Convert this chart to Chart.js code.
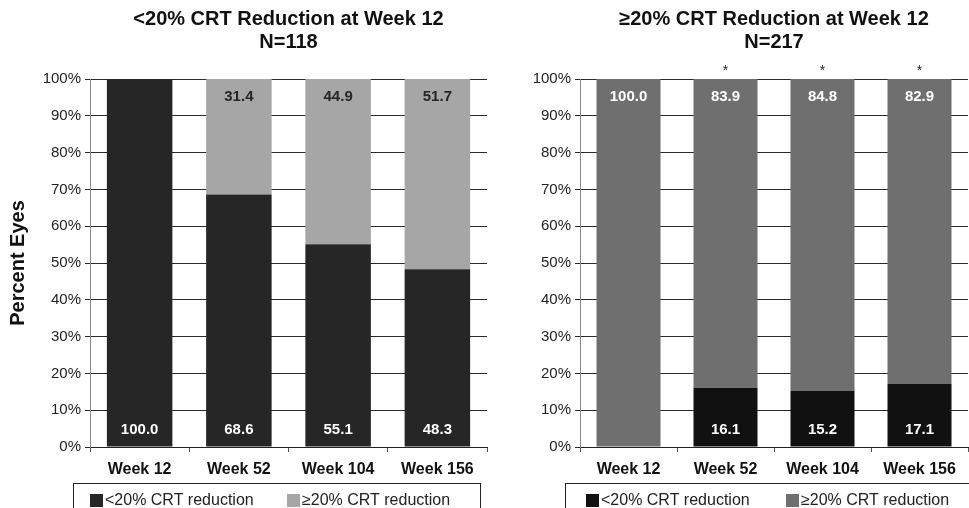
<!DOCTYPE html>
<html>
<head>
<meta charset="utf-8">
<script src="https://cdn.jsdelivr.net/npm/chart.js@4.4.1/dist/chart.umd.min.js"></script>
<style>
    html, body { margin: 0; padding: 0; background: #fff; overflow: hidden; width: 969px; height: 508px; }
    .panel { position: absolute; top: 0; }
    #leftPanel { left: 0; }
    #rightPanel { left: 490px; }
</style>
</head>
<body>
<div class="panel" id="leftPanel"><canvas id="leftChart" width="490" height="508"></canvas></div>
<div class="panel" id="rightPanel"><canvas id="rightChart" width="479" height="508"></canvas></div>
<script>
// data
const weeks = ["Week 12", "Week 52", "Week 104", "Week 156"];
const seriesNames = ["<20% CRT reduction", "\u226520% CRT reduction"];
const leftTitle = ["<20% CRT Reduction at Week 12", "N=118"];
const rightTitle = ["\u226520% CRT Reduction at Week 12", "N=217"];
const leftBelow = [100.0, 68.6, 55.1, 48.3];
const leftAbove = [0, 31.4, 44.9, 51.7];
const rightBelow = [0, 16.1, 15.2, 17.1];
const rightAbove = [100.0, 83.9, 84.8, 82.9];
const rightMarks = ["", "*", "*", "*"];
const yAxisTitle = "Percent Eyes";

const FONT = "'Liberation Sans', Arial, Helvetica, sans-serif";
Chart.defaults.font.family = FONT;
Chart.defaults.color = "#222";

// value labels, asterisks and the boxed legend
const panelExtras = {
    id: "panelExtras",
    afterDatasetsDraw(chart, args, opts) {
        const ctx = chart.ctx;
        ctx.save();
        ctx.font = "bold 15px " + FONT;
        ctx.textAlign = "center";
        ctx.textBaseline = "middle";
        chart.data.datasets.forEach((ds, di) => {
            chart.getDatasetMeta(di).data.forEach((bar, i) => {
                const v = ds.data[i];
                if (!v) return;
                const y = di === 0 ? bar.base - 17 : bar.y + 18;
                ctx.fillStyle = opts.labelColors[di];
                ctx.fillText(v.toFixed(1), bar.x, y);
            });
        });
        if (opts.marks) {
            ctx.font = "14px " + FONT;
            ctx.fillStyle = "#222";
            const meta = chart.getDatasetMeta(0);
            opts.marks.forEach((m, i) => {
                if (m) ctx.fillText(m, meta.data[i].x, chart.chartArea.top - 8);
            });
        }
        ctx.restore();
    },
    afterDraw(chart, args, opts) {
        const ctx = chart.ctx;
        const area = chart.chartArea;
        const lg = opts.legend;
        const top = area.bottom + 36;
        ctx.save();
        ctx.strokeStyle = "#222";
        ctx.lineWidth = 1;
        ctx.strokeRect(area.left + lg.boxLeft + 0.5, top + 0.5, lg.boxWidth, 40);
        ctx.font = "16px " + FONT;
        ctx.textBaseline = "middle";
        ctx.textAlign = "left";
        chart.data.datasets.forEach((ds, di) => {
            const x = area.left + lg.items[di];
            ctx.fillStyle = ds.backgroundColor;
            ctx.fillRect(x, top + 11, 13, 13);
            ctx.fillStyle = "#222";
            ctx.fillText(ds.label, x + 15, top + 18);
        });
        ctx.restore();
    }
};

function buildChart(canvasId, title, below, above, colors, extras) {
    const isLeft = extras.showYTitle;
    return new Chart(document.getElementById(canvasId), {
        type: "bar",
        data: {
            labels: weeks,
            datasets: [
                { label: seriesNames[0], data: below, backgroundColor: colors[0] },
                { label: seriesNames[1], data: above, backgroundColor: colors[1] }
            ]
        },
        options: {
            responsive: false,
            animation: false,
            layout: { padding: { left: 0, right: isLeft ? 3 : 1, top: 0, bottom: 25 } },
            datasets: { bar: { categoryPercentage: 1, barPercentage: 0.66 } },
            scales: {
                x: {
                    stacked: true,
                    afterFit: s => { s.height = 36; },
                    grid: { display: true, drawOnChartArea: false, drawTicks: true, tickLength: 5, color: "#555", offset: true },
                    border: { color: "#222" },
                    ticks: { font: { size: 16, weight: "bold" }, color: "#111", padding: 8 }
                },
                y: {
                    stacked: true,
                    min: 0,
                    max: 100,
                    afterFit: s => { s.width = 90; },
                    ticks: { stepSize: 10, callback: v => v + "%", font: { size: 15 }, color: "#222", padding: 4 },
                    grid: { color: "#2a2a2a", tickLength: 5 },
                    border: { color: "#888" },
                    title: {
                        display: isLeft,
                        text: yAxisTitle,
                        font: { size: 20, weight: "bold" },
                        color: "#111",
                        padding: { top: 6, bottom: 0 }
                    }
                }
            },
            plugins: {
                legend: { display: false },
                tooltip: { enabled: false },
                title: {
                    display: true,
                    text: title,
                    fullSize: false,
                    font: { size: 20, weight: "bold", lineHeight: 1.15 },
                    color: "#111",
                    padding: { top: 7.5, bottom: 25.5 }
                },
                panelExtras: extras
            }
        },
        plugins: [panelExtras]
    });
}

buildChart("leftChart", leftTitle, leftBelow, leftAbove, ["#262626", "#a6a6a6"],
    { showYTitle: true, labelColors: ["#fff", "#262626"], legend: { boxLeft: -17, boxWidth: 407, items: [0, 197] } });

buildChart("rightChart", rightTitle, rightBelow, rightAbove, ["#111111", "#6f6f6f"],
    { showYTitle: false, labelColors: ["#fff", "#fff"], marks: rightMarks, legend: { boxLeft: -15, boxWidth: 420, items: [6, 206] } });
</script>
</body>
</html>
